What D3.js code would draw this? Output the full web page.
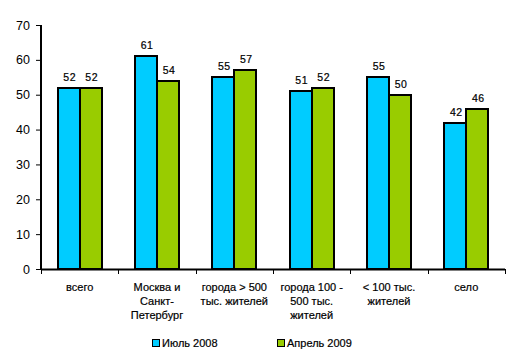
<!DOCTYPE html>
<html><head><meta charset="utf-8">
<script src="https://cdn.jsdelivr.net/npm/d3@7"></script>
<style>body{margin:0;background:#fff;}svg{display:block;font-family:"Liberation Sans",Arial,sans-serif;}</style>
</head><body>
<svg id="c" width="518" height="359"></svg>
<script>
const categories = [["всего"],["Москва и","Санкт-","Петербург"],["города > 500","тыс. жителей"],["города 100 -","500 тыс.","жителей"],["< 100 тыс.","жителей"],["село"]];
const seriesNames = ["Июль 2008","Апрель 2009"];
const july2008 = [52,61,55,51,55,42];
const april2009 = [52,54,57,52,50,46];
const yTicks = [0,10,20,30,40,50,60,70];
const colors = ["#00CCFF","#99CC00"];

const svg = d3.select("#c");
const x0 = 41, x1 = 505, yTop = 25, yBot = 269;
const ids = categories.map((d,i)=>i);
const x = d3.scaleBand().domain(ids).range([x0,x1]).paddingInner(0).paddingOuter(0);
const y = d3.scaleLinear().domain([0,70]).range([yBot,yTop]);
const barW = 22;
const series = [july2008, april2009];

// bars
series.forEach((vals,s)=>{
  svg.append("g").selectAll("rect").data(vals).join("rect")
    .attr("x",(d,i)=>Math.round(x(i)+x.bandwidth()/2 - barW + s*barW))
    .attr("y",d=>Math.round(y(d)))
    .attr("width",barW)
    .attr("height",d=>yBot-Math.round(y(d)))
    .attr("fill",colors[s]).attr("stroke","#000").attr("stroke-width",2);
  svg.append("g").selectAll("text").data(vals).join("text")
    .attr("x",(d,i)=>x(i)+x.bandwidth()/2 - barW/2 + s*barW + 1)
    .attr("y",d=>y(d)-7)
    .attr("text-anchor","middle").attr("font-size","10.5px").attr("letter-spacing","0.5px")
    .attr("stroke","#000").attr("stroke-width",0.2)
    .text(d=>d);
});

// y axis
const yAxis = d3.axisLeft(y).tickValues(yTicks).tickSize(5).tickPadding(6);
const gy = svg.append("g").attr("transform",`translate(${x0},0)`).call(yAxis);
gy.select(".domain").attr("d",`M0,${yTop}V${yBot+1}`).attr("stroke","#000").attr("stroke-width",2);
gy.selectAll(".tick line").attr("stroke","#000");
gy.selectAll(".tick text").attr("font-size","12.5px").attr("font-family","Liberation Sans, Arial, sans-serif").attr("fill","#000");

// x axis
const xAxis = d3.axisBottom(x).tickSize(0).tickFormat("");
const gx = svg.append("g").attr("transform",`translate(0,${yBot})`).call(xAxis);
gx.select(".domain").attr("d",`M${x0},0.5H${x1}`).attr("stroke","#000").attr("stroke-width",2);
const bounds = ids.map(i=>x(i)).concat([x1]);
svg.append("g").selectAll("line").data(bounds).join("line")
  .attr("x1",d=>Math.round(d)+0.5).attr("x2",d=>Math.round(d)+0.5)
  .attr("y1",yBot).attr("y2",yBot+5).attr("stroke","#000");

// category labels
const lab = svg.append("g").selectAll("text").data(categories).join("text")
  .attr("text-anchor","middle").attr("font-size","11px")
  .attr("stroke","#000").attr("stroke-width",0.2);
lab.each(function(lines,i){
  d3.select(this).selectAll("tspan").data(lines).join("tspan")
    .attr("x",x(i)+x.bandwidth()/2).attr("y",(d,j)=>290.5+j*14).text(d=>d);
});

// legend
const legX = [152, 277];
seriesNames.forEach((n,s)=>{
  svg.append("rect").attr("x",legX[s]+0.5).attr("y",339.5).attr("width",7).attr("height",7)
    .attr("fill",colors[s]).attr("stroke","#000");
  svg.append("text").attr("x",legX[s]+10).attr("y",347).attr("font-size","11px")
    .attr("stroke","#000").attr("stroke-width",0.2).text(n);
});
</script>
</body></html>
